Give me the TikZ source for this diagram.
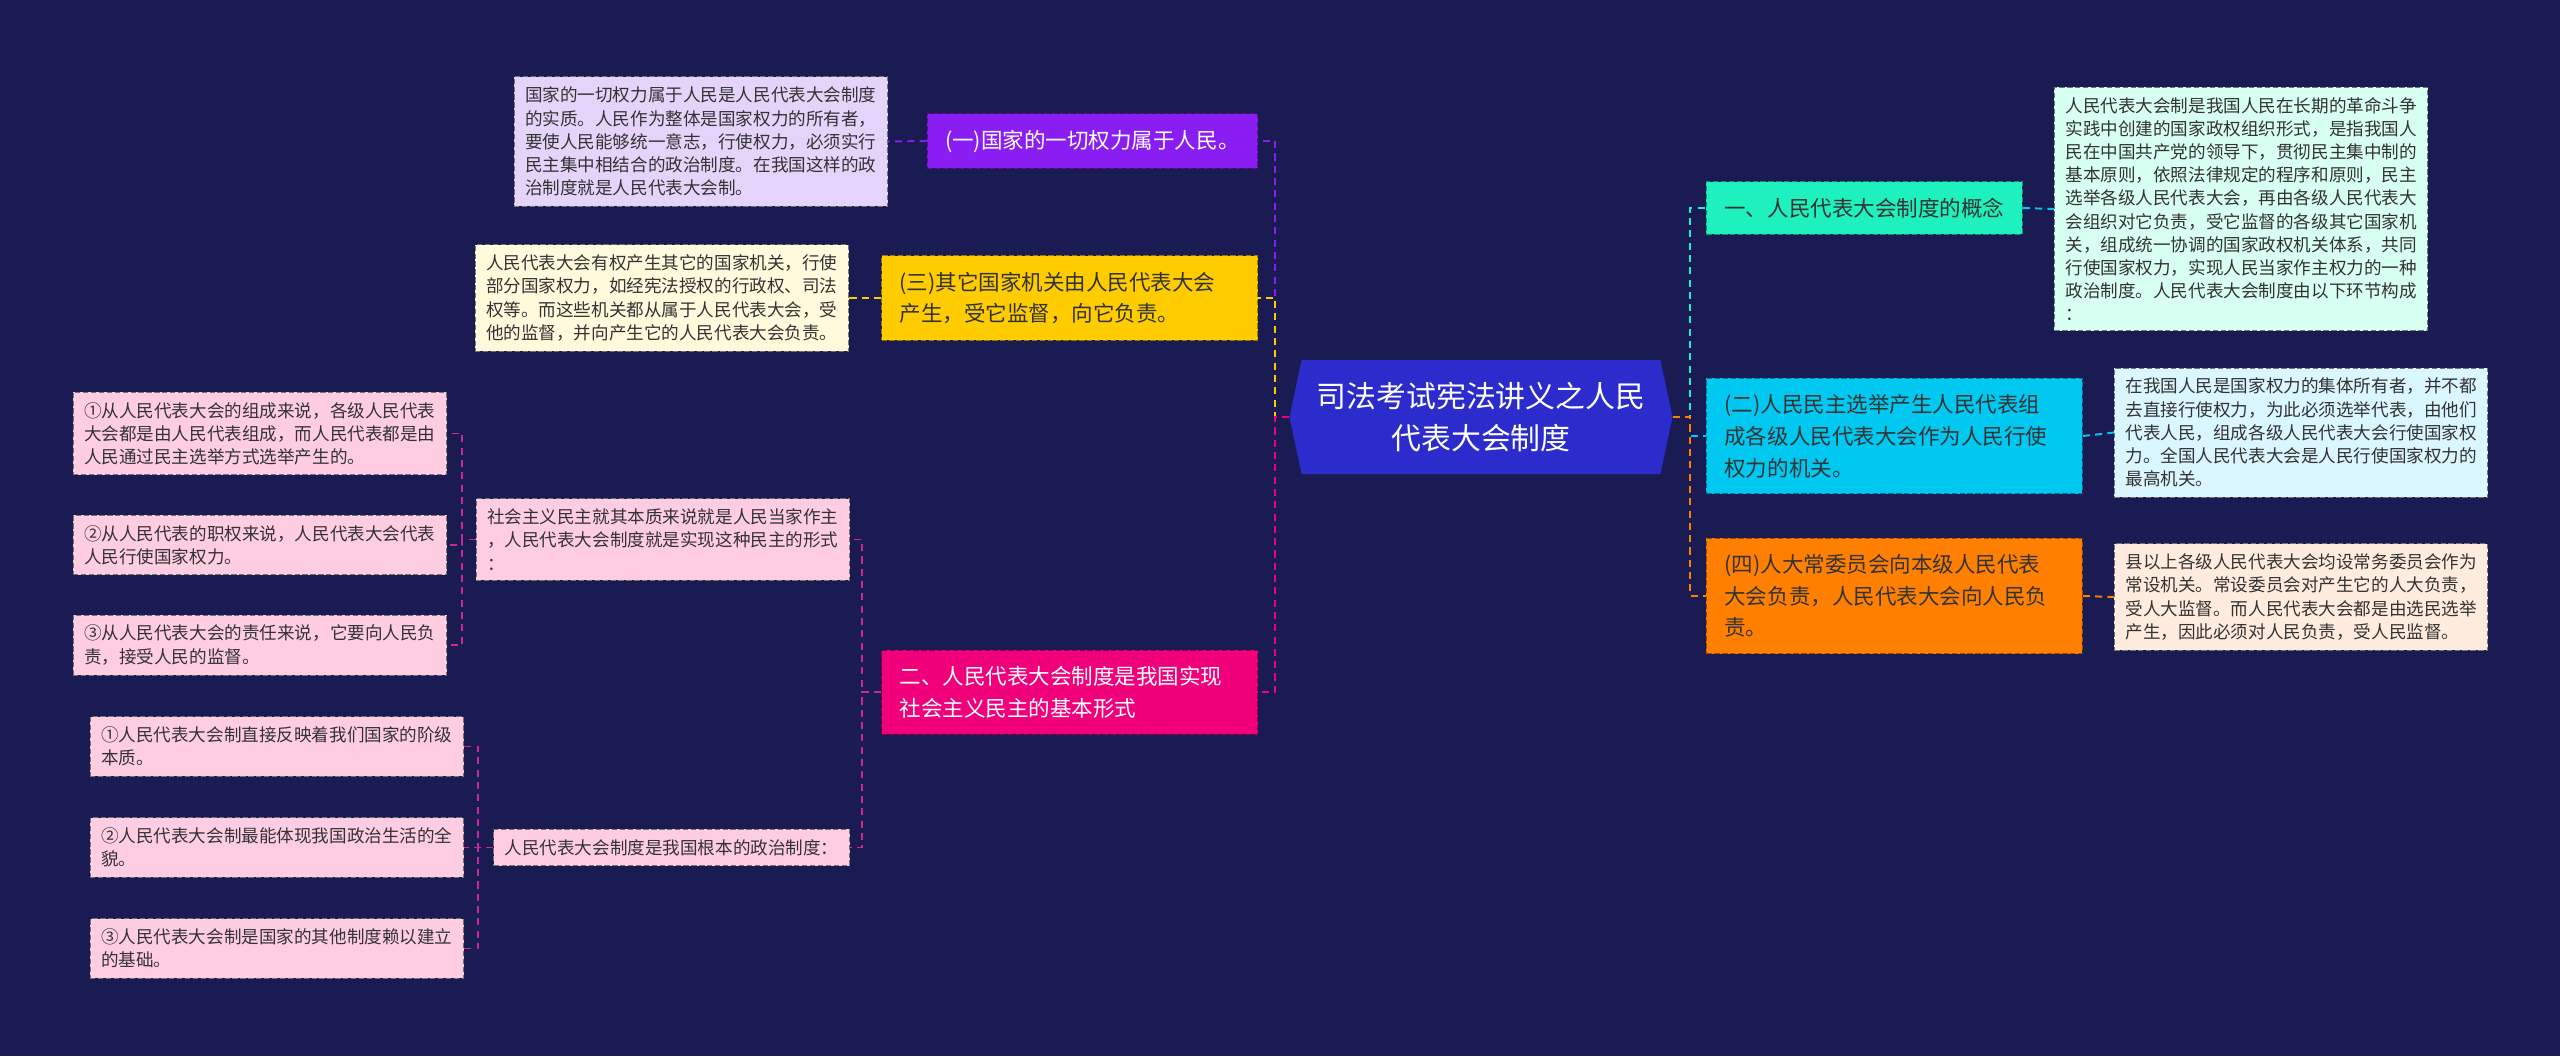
\documentclass[tikz,border=0pt]{standalone}
\usepackage{fontspec}
\setmainfont{Noto Sans CJK SC}
\usetikzlibrary{shapes.symbols}
\definecolor{mmbg}{RGB}{27,27,84}
\definecolor{mmroot}{RGB}{44,44,204}
\definecolor{mmpurple}{RGB}{138,30,242}
\definecolor{mmgold}{RGB}{255,204,0}
\definecolor{mmrose}{RGB}{240,0,122}
\definecolor{mmmint}{RGB}{30,240,190}
\definecolor{mmsky}{RGB}{0,200,240}
\definecolor{mmorange}{RGB}{255,128,0}
\definecolor{mmink}{RGB}{51,51,51}
\definecolor{mmlink}{RGB}{205,40,140}
\definecolor{lflav}{RGB}{228,212,250}
\definecolor{lfcream}{RGB}{255,250,220}
\definecolor{lfpink}{RGB}{255,205,225}
\definecolor{lfmint}{RGB}{215,255,242}
\definecolor{lfsky}{RGB}{218,246,255}
\definecolor{lfpeach}{RGB}{255,236,222}

\begin{document}
\begin{tikzpicture}[
  hub/.style={signal, signal to=west and east, signal pointer angle=156,
    fill=mmroot, text=white, align=center, inner sep=4pt,
    minimum width=7.66cm, minimum height=2.28cm,
    font=\fontsize{17pt}{23.8pt}\selectfont},
  mid/.style={fill=#1, draw=#1!60!black, dash pattern=on 3pt off 1.5pt,
    line width=0.5pt, align=left, text=mmink, inner xsep=0.36cm, inner ysep=0.32cm,
    font=\fontsize{12.25pt}{18.1pt}\selectfont},
  wide/.style={text width=6.8cm},
  leaf/.style={fill=#1, draw=black!55, dash pattern=on 3pt off 1.5pt,
    line width=0.5pt, align=left, text=mmink, inner xsep=0.22cm, inner ysep=0.2cm,
    font=\fontsize{10pt}{13.2pt}\selectfont},
  lnk/.style={line width=1.1pt, dash pattern=on 4pt off 3pt}
]
\fill[mmbg] (0,0) rectangle (51.2,-21.12);

\node[hub] (root) at (29.62,-8.34) {司法考试宪法讲义之人民\\代表大会制度};

\node[mid=mmpurple, text=white, anchor=east] (n1) at (25.16,-2.82) {(一)国家的一切权力属于人民。};
\node[mid=mmgold, wide, anchor=east] (n2) at (25.16,-5.96) {(三)其它国家机关由人民代表大会\\产生，受它监督，向它负责。};
\node[mid=mmrose, wide, text=white, anchor=east] (n3) at (25.16,-13.84) {二、人民代表大会制度是我国实现\\社会主义民主的基本形式};

\node[mid=mmmint, anchor=west] (r1) at (34.12,-4.16) {一、人民代表大会制度的概念};
\node[mid=mmsky, wide, anchor=west] (r2) at (34.12,-8.72) {(二)人民民主选举产生人民代表组\\成各级人民代表大会作为人民行使\\权力的机关。};
\node[mid=mmorange, wide, anchor=west] (r3) at (34.12,-11.92) {(四)人大常委员会向本级人民代表\\大会负责，人民代表大会向人民负\\责。};

\node[leaf=lflav, anchor=east] (l1) at (17.76,-2.83) {国家的一切权力属于人民是人民代表大会制度\\的实质。人民作为整体是国家权力的所有者，\\要使人民能够统一意志，行使权力，必须实行\\民主集中相结合的政治制度。在我国这样的政\\治制度就是人民代表大会制。};
\node[leaf=lfcream, anchor=east] (l2) at (16.98,-5.96) {人民代表大会有权产生其它的国家机关，行使\\部分国家权力，如经宪法授权的行政权、司法\\权等。而这些机关都从属于人民代表大会，受\\他的监督，并向产生它的人民代表大会负责。};

\node[leaf=lfpink, anchor=east] (m1) at (17.0,-10.79) {社会主义民主就其本质来说就是人民当家作主\\，人民代表大会制度就是实现这种民主的形式\\：};
\node[leaf=lfpink, anchor=east] (m2) at (17.0,-16.95) {人民代表大会制度是我国根本的政治制度：};

\node[leaf=lfpink, anchor=east] (a1) at (8.94,-8.67) {①从人民代表大会的组成来说，各级人民代表\\大会都是由人民代表组成，而人民代表都是由\\人民通过民主选举方式选举产生的。};
\node[leaf=lfpink, anchor=east] (a2) at (8.94,-10.9) {②从人民代表的职权来说，人民代表大会代表\\人民行使国家权力。};
\node[leaf=lfpink, anchor=east] (a3) at (8.94,-12.9) {③从人民代表大会的责任来说，它要向人民负\\责，接受人民的监督。};

\node[leaf=lfpink, anchor=east] (b1) at (9.28,-14.93) {①人民代表大会制直接反映着我们国家的阶级\\本质。};
\node[leaf=lfpink, anchor=east] (b2) at (9.28,-16.95) {②人民代表大会制最能体现我国政治生活的全\\貌。};
\node[leaf=lfpink, anchor=east] (b3) at (9.28,-18.97) {③人民代表大会制是国家的其他制度赖以建立\\的基础。};

\node[leaf=lfmint, anchor=west] (s1) at (41.08,-4.18) {人民代表大会制是我国人民在长期的革命斗争\\实践中创建的国家政权组织形式，是指我国人\\民在中国共产党的领导下，贯彻民主集中制的\\基本原则，依照法律规定的程序和原则，民主\\选举各级人民代表大会，再由各级人民代表大\\会组织对它负责，受它监督的各级其它国家机\\关，组成统一协调的国家政权机关体系，共同\\行使国家权力，实现人民当家作主权力的一种\\政治制度。人民代表大会制度由以下环节构成\\：};
\node[leaf=lfsky, anchor=west] (s2) at (42.28,-8.65) {在我国人民是国家权力的集体所有者，并不都\\去直接行使权力，为此必须选举代表，由他们\\代表人民，组成各级人民代表大会行使国家权\\力。全国人民代表大会是人民行使国家权力的\\最高机关。};
\node[leaf=lfpeach, anchor=west] (s3) at (42.28,-11.94) {县以上各级人民代表大会均设常务委员会作为\\常设机关。常设委员会对产生它的人大负责，\\受人大监督。而人民代表大会都是由选民选举\\产生，因此必须对人民负责，受人民监督。};

\coordinate (jl) at (25.5,-8.34);
\coordinate (jr) at (33.8,-8.34);
\coordinate (jm) at (17.24,-13.84);
\coordinate (ja) at (9.24,-10.79);
\coordinate (jb) at (9.56,-16.95);

\draw[lnk, mmpurple] (root.west) -- (jl) |- (n1.east);
\draw[lnk, mmgold] (root.west) -- (jl) |- (n2.east);
\draw[lnk, mmrose] (root.west) -- (jl) |- (n3.east);
\draw[lnk, mmmint] (root.east) -- (jr) |- (r1.west);
\draw[lnk, mmsky] (root.east) -- (jr) |- (r2.west);
\draw[lnk, mmorange] (root.east) -- (jr) |- (r3.west);

\draw[lnk, mmpurple] (n1.west) -- (l1.east);
\draw[lnk, mmgold] (n2.west) -- (l2.east);
\draw[lnk, mmlink] (n3.west) -- (jm) |- (m1.east);
\draw[lnk, mmlink] (n3.west) -- (jm) |- (m2.east);
\draw[lnk, mmlink] (m1.west) -- (ja) |- (a1.east);
\draw[lnk, mmlink] (m1.west) -- (ja) |- (a2.east);
\draw[lnk, mmlink] (m1.west) -- (ja) |- (a3.east);
\draw[lnk, mmlink] (m2.west) -- (jb) |- (b1.east);
\draw[lnk, mmlink] (m2.west) -- (jb) |- (b2.east);
\draw[lnk, mmlink] (m2.west) -- (jb) |- (b3.east);
\draw[lnk, mmsky] (r1.east) -- (s1.west);
\draw[lnk, mmsky] (r2.east) -- (s2.west);
\draw[lnk, mmorange] (r3.east) -- (s3.west);
\end{tikzpicture}
\end{document}
